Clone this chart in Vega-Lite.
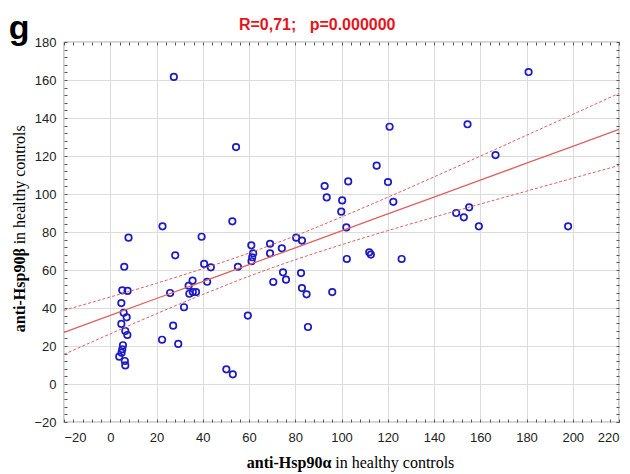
{
  "$schema": "https://vega.github.io/schema/vega-lite/v6.json",
  "autosize": {"type": "none"},
  "width": 555,
  "height": 380,
  "padding": {"left": 64, "top": 42, "right": 11, "bottom": 52},
  "background": "white",
  "config": {
    "view": {"stroke": "#555555", "strokeWidth": 1.2},
    "axis": {"labelFont": "Liberation Sans", "labelFontSize": 13, "labelColor": "#222222", "titleFont": "Liberation Serif"}
  },
  "datasets": {
    "pts": [
      {"a": 27.5, "b": 161.6}, {"a": 54.4, "b": 124.7}, {"a": 22.6, "b": 83.0}, {"a": 52.8, "b": 85.6},
      {"a": 7.9, "b": 77.0}, {"a": 39.5, "b": 77.5}, {"a": 28.1, "b": 67.7}, {"a": 6.05, "b": 61.7},
      {"a": 40.6, "b": 63.2}, {"a": 43.5, "b": 61.4}, {"a": 55.2, "b": 61.7}, {"a": 61.0, "b": 73.0},
      {"a": 61.8, "b": 68.8}, {"a": 61.4, "b": 66.7}, {"a": 61.1, "b": 64.6}, {"a": 33.9, "b": 51.7},
      {"a": 35.6, "b": 54.4}, {"a": 34.2, "b": 47.5}, {"a": 35.7, "b": 48.4}, {"a": 37.1, "b": 48.4},
      {"a": 41.9, "b": 53.8}, {"a": 25.9, "b": 47.9}, {"a": 31.9, "b": 40.4}, {"a": 27.2, "b": 30.7},
      {"a": 22.4, "b": 23.3}, {"a": 29.4, "b": 21.1}, {"a": 50.2, "b": 7.7}, {"a": 53.0, "b": 5.1},
      {"a": 59.5, "b": 36.0}, {"a": 5.2, "b": 49.3}, {"a": 7.5, "b": 49.0}, {"a": 4.8, "b": 42.6},
      {"a": 5.8, "b": 37.5}, {"a": 7.1, "b": 35.1}, {"a": 4.8, "b": 31.6}, {"a": 6.5, "b": 27.9},
      {"a": 7.4, "b": 25.8}, {"a": 5.5, "b": 20.4}, {"a": 5.2, "b": 18.3}, {"a": 4.9, "b": 16.5},
      {"a": 3.9, "b": 14.4}, {"a": 6.3, "b": 12.1}, {"a": 6.5, "b": 9.8}, {"a": 120.8, "b": 135.4},
      {"a": 115.2, "b": 114.9}, {"a": 92.7, "b": 104.2}, {"a": 102.9, "b": 106.6}, {"a": 120.1, "b": 106.3},
      {"a": 93.6, "b": 98.2}, {"a": 100.3, "b": 96.6}, {"a": 122.4, "b": 95.9}, {"a": 99.9, "b": 90.7},
      {"a": 102.1, "b": 82.4}, {"a": 80.4, "b": 77.0}, {"a": 82.9, "b": 75.5}, {"a": 69.1, "b": 73.8},
      {"a": 74.2, "b": 71.4}, {"a": 69.1, "b": 68.8}, {"a": 102.3, "b": 65.8}, {"a": 112.0, "b": 69.3},
      {"a": 112.7, "b": 68.1}, {"a": 126.0, "b": 65.8}, {"a": 74.7, "b": 58.8}, {"a": 82.5, "b": 58.4},
      {"a": 76.0, "b": 54.9}, {"a": 70.5, "b": 53.7}, {"a": 82.9, "b": 50.5}, {"a": 84.9, "b": 47.2},
      {"a": 96.0, "b": 48.4}, {"a": 85.5, "b": 30.0}, {"a": 180.9, "b": 164.2}, {"a": 154.5, "b": 136.7},
      {"a": 166.6, "b": 120.5}, {"a": 149.6, "b": 90.0}, {"a": 152.9, "b": 87.7}, {"a": 155.2, "b": 93.0},
      {"a": 159.4, "b": 83.0}, {"a": 198.0, "b": 83.0}
    ],
    "band": [
      {"a": -20, "fit": 27.2, "lo": 15.6, "hi": 38.8},
      {"a": 0, "fit": 36.1, "lo": 26.4, "hi": 45.8},
      {"a": 20, "fit": 45.0, "lo": 37.0, "hi": 53.0},
      {"a": 40, "fit": 53.9, "lo": 47.1, "hi": 60.7},
      {"a": 60, "fit": 62.8, "lo": 56.7, "hi": 68.9},
      {"a": 80, "fit": 71.7, "lo": 65.4, "hi": 78.0},
      {"a": 100, "fit": 80.6, "lo": 73.3, "hi": 87.9},
      {"a": 120, "fit": 89.5, "lo": 80.7, "hi": 98.3},
      {"a": 140, "fit": 98.4, "lo": 87.8, "hi": 109.0},
      {"a": 160, "fit": 107.3, "lo": 94.7, "hi": 119.9},
      {"a": 180, "fit": 116.2, "lo": 101.5, "hi": 130.9},
      {"a": 200, "fit": 125.1, "lo": 108.3, "hi": 141.9},
      {"a": 220, "fit": 134.0, "lo": 115.0, "hi": 153.0}
    ],
    "lab": [{"t": "x"}]
  },
  "resolve": {"axis": {"x": "independent", "y": "independent"}},
  "layer": [
    {
      "data": {"name": "pts"},
      "mark": {"type": "point", "shape": "circle", "filled": false, "stroke": "#1c1cc4", "strokeWidth": 1.7, "size": 42, "opacity": 1},
      "encoding": {
        "x": {"field": "a", "type": "quantitative", "scale": {"domain": [-20, 220], "nice": false, "zero": false},
              "axis": {"orient": "bottom", "values": [-20,0,20,40,60,80,100,120,140,160,180,200,220], "ticks": false, "domain": false, "grid": true, "gridColor": "#dcdcdc", "labelPadding": 9, "title": null}},
        "y": {"field": "b", "type": "quantitative", "scale": {"domain": [-20, 180], "nice": false, "zero": false},
              "axis": {"orient": "left", "values": [-20,0,20,40,60,80,100,120,140,160,180], "ticks": false, "domain": false, "grid": true, "gridColor": "#dcdcdc", "labelPadding": 8, "title": null}}
      }
    },
    {
      "data": {"name": "band"},
      "mark": {"type": "line", "color": "#e06060", "strokeWidth": 1.3},
      "encoding": {
        "x": {"field": "a", "type": "quantitative",
              "axis": {"orient": "bottom", "values": [-20,-16,-12,-8,-4,0,4,8,12,16,20,24,28,32,36,40,44,48,52,56,60,64,68,72,76,80,84,88,92,96,100,104,108,112,116,120,124,128,132,136,140,144,148,152,156,160,164,168,172,176,180,184,188,192,196,200,204,208,212,216,220], "labels": false, "grid": false, "domain": false, "ticks": true, "tickSize": -3, "tickColor": "#555555", "title": null}},
        "y": {"field": "fit", "type": "quantitative",
              "axis": {"orient": "left", "values": [-20,-16,-12,-8,-4,0,4,8,12,16,20,24,28,32,36,40,44,48,52,56,60,64,68,72,76,80,84,88,92,96,100,104,108,112,116,120,124,128,132,136,140,144,148,152,156,160,164,168,172,176,180], "labels": false, "grid": false, "domain": false, "ticks": true, "tickSize": -3, "tickColor": "#555555", "title": null}}
      }
    },
    {
      "data": {"name": "band"},
      "mark": {"type": "line", "color": "#e06060", "strokeWidth": 1, "strokeDash": [3, 2], "interpolate": "monotone"},
      "encoding": {
        "x": {"field": "a", "type": "quantitative",
              "axis": {"orient": "top", "values": [-20,-16,-12,-8,-4,0,4,8,12,16,20,24,28,32,36,40,44,48,52,56,60,64,68,72,76,80,84,88,92,96,100,104,108,112,116,120,124,128,132,136,140,144,148,152,156,160,164,168,172,176,180,184,188,192,196,200,204,208,212,216,220], "labels": false, "grid": false, "domain": false, "ticks": true, "tickSize": -3, "tickColor": "#555555", "title": null}},
        "y": {"field": "hi", "type": "quantitative",
              "axis": {"orient": "right", "values": [-20,-16,-12,-8,-4,0,4,8,12,16,20,24,28,32,36,40,44,48,52,56,60,64,68,72,76,80,84,88,92,96,100,104,108,112,116,120,124,128,132,136,140,144,148,152,156,160,164,168,172,176,180], "labels": false, "grid": false, "domain": false, "ticks": true, "tickSize": -3, "tickColor": "#555555", "title": null}}
      }
    },
    {
      "data": {"name": "band"},
      "mark": {"type": "line", "color": "#e06060", "strokeWidth": 1, "strokeDash": [3, 2], "interpolate": "monotone"},
      "encoding": {
        "x": {"field": "a", "type": "quantitative", "axis": null},
        "y": {"field": "lo", "type": "quantitative", "axis": null}
      }
    },
    {
      "data": {"name": "lab"},
      "mark": {"type": "text", "text": "g", "font": "Liberation Sans", "fontSize": 34, "fontWeight": "bold", "align": "center", "baseline": "middle", "color": "#000000"},
      "encoding": {"x": {"datum": -39.4, "type": "quantitative", "axis": null}, "y": {"datum": 187, "type": "quantitative", "axis": null}}
    },
    {
      "data": {"name": "lab"},
      "mark": {"type": "text", "text": "R=0,71;\u00a0\u00a0\u00a0p=0.000000", "font": "Liberation Sans", "fontSize": 16, "fontWeight": "bold", "align": "center", "baseline": "middle", "color": "#e8141c"},
      "encoding": {"x": {"datum": 89.5, "type": "quantitative", "axis": null}, "y": {"datum": 189, "type": "quantitative", "axis": null}}
    },
    {
      "data": {"name": "lab"},
      "mark": {"type": "text", "text": "anti-Hsp90α", "font": "Liberation Serif", "fontSize": 16, "fontWeight": "bold", "align": "right", "baseline": "middle", "color": "#000000"},
      "encoding": {"x": {"datum": 95.6, "type": "quantitative", "axis": null}, "y": {"datum": -41.6, "type": "quantitative", "axis": null}}
    },
    {
      "data": {"name": "lab"},
      "mark": {"type": "text", "text": "in healthy controls", "font": "Liberation Serif", "fontSize": 16, "align": "left", "baseline": "middle", "color": "#000000"},
      "encoding": {"x": {"datum": 97.3, "type": "quantitative", "axis": null}, "y": {"datum": -41.6, "type": "quantitative", "axis": null}}
    },
    {
      "data": {"name": "lab"},
      "mark": {"type": "text", "text": "anti-Hsp90β", "font": "Liberation Serif", "fontSize": 16, "fontWeight": "bold", "angle": 270, "align": "right", "baseline": "middle", "color": "#000000"},
      "encoding": {"x": {"datum": -38.9, "type": "quantitative", "axis": null}, "y": {"datum": 71.5, "type": "quantitative", "axis": null}}
    },
    {
      "data": {"name": "lab"},
      "mark": {"type": "text", "text": "in healthy controls", "font": "Liberation Serif", "fontSize": 16, "angle": 270, "align": "left", "baseline": "middle", "color": "#000000"},
      "encoding": {"x": {"datum": -38.9, "type": "quantitative", "axis": null}, "y": {"datum": 73.5, "type": "quantitative", "axis": null}}
    }
  ]
}
